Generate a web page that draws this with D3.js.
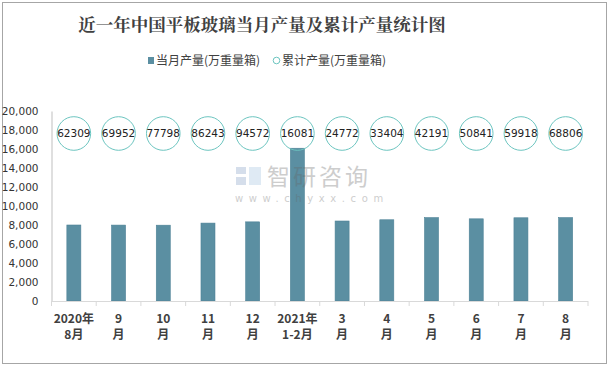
<!DOCTYPE html>
<html><head><meta charset="utf-8">
<script src="https://cdn.jsdelivr.net/npm/d3@7"></script>
<style>body{margin:0;background:#fff}svg{display:block}</style>
</head><body>
<svg id="c" width="610" height="369"></svg>
<script>
const categoriesLine1 = ["2020年","9","10","11","12","2021年","3","4","5","6","7","8"];
const categoriesLine2 = ["8月","月","月","月","月","1-2月","月","月","月","月","月","月"];
const monthly = [8000, 7990, 7980, 8200, 8330, 16081, 8420, 8550, 8780, 8650, 8760, 8780];
const cumulative = [62309, 69952, 77798, 86243, 94572, 16081, 24772, 33404, 42191, 50841, 59918, 68806];
const yTicks = [0,2000,4000,6000,8000,10000,12000,14000,16000,18000,20000];
const seriesNames = ["当月产量(万重量箱)","累计产量(万重量箱)"];

const svg = d3.select("#c");
svg.append("rect").attr("x",2.5).attr("y",2.5).attr("width",604).attr("height",361)
  .attr("fill","#fff").attr("stroke","#a6a6a6").attr("stroke-width",1);

const L=51.5, R=588, T=111, B=301;
const cats = d3.range(categoriesLine1.length);
const x = d3.scaleBand().domain(cats).range([L,R]);
const y = d3.scaleLinear().domain([0,20000]).range([B,T]);

// title
svg.append("text").attr("x",262).attr("y",31).attr("text-anchor","middle")
  .attr("font-family","'Noto Serif CJK SC','Noto Sans CJK SC',serif").attr("font-weight","bold")
  .attr("font-size",17.5).attr("fill","#404040").text("近一年中国平板玻璃当月产量及累计产量统计图");

// legend
svg.append("rect").attr("x",148).attr("y",57).attr("width",6).attr("height",7).attr("fill","#5B8FA2");
svg.append("text").attr("x",156).attr("y",65).attr("font-family","'Noto Sans CJK SC',sans-serif")
  .attr("font-size",12).attr("fill","#404040").text(seriesNames[0]);
svg.append("circle").attr("cx",276.5).attr("cy",60.5).attr("r",3.3).attr("fill","none").attr("stroke","#6cc5c0").attr("stroke-width",1);
svg.append("text").attr("x",282).attr("y",65).attr("font-family","'Noto Sans CJK SC',sans-serif")
  .attr("font-size",12).attr("fill","#404040").text(seriesNames[1]);

// y axis
const yAxis = svg.append("g").attr("transform",`translate(${L},0)`)
  .call(d3.axisLeft(y).tickValues(yTicks).tickSize(0).tickPadding(13).tickFormat(d3.format(",")));
yAxis.select(".domain").attr("stroke","#bfbfbf");
yAxis.selectAll("text").attr("font-family","'DejaVu Sans',sans-serif").attr("font-size",10.5).attr("fill","#333");

// bars
svg.append("g").selectAll("rect").data(monthly).join("rect")
  .attr("x",(d,i)=>x(i)+x.bandwidth()/2-7).attr("width",14)
  .attr("y",d=>y(d)).attr("height",d=>B-y(d))
  .attr("fill","#5B8FA2").attr("stroke","#4d8196").attr("stroke-width",0.6);

// watermark (over bars, semi-transparent)
const wm = svg.append("g").attr("opacity",0.32);
wm.append("rect").attr("x",236).attr("y",167).attr("width",10).attr("height",7).attr("fill","#7f9cc4");
wm.append("rect").attr("x",236).attr("y",177).attr("width",10).attr("height",8).attr("fill","#7f9cc4");
wm.append("rect").attr("x",249).attr("y",167).attr("width",12).attr("height",18).attr("fill","#9fc1e0");
wm.append("text").attr("x",267).attr("y",185).attr("font-family","'Noto Sans CJK SC',sans-serif")
  .attr("font-size",23).attr("letter-spacing",3).attr("fill","#666").text("智研咨询");
wm.append("text").attr("x",235).attr("y",202).attr("font-family","'DejaVu Sans',sans-serif")
  .attr("font-size",10).attr("letter-spacing",5.6).attr("fill","#666").text("www.chyxx.com");

// x axis
const xa = svg.append("g");
xa.append("line").attr("x1",L).attr("x2",R).attr("y1",B+0.5).attr("y2",B+0.5).attr("stroke","#d9d9d9");
xa.selectAll("line.t").data(d3.range(cats.length+1)).join("line").attr("class","t")
  .attr("x1",i=>L+i*x.step()).attr("x2",i=>L+i*x.step()).attr("y1",B).attr("y2",B+5).attr("stroke","#d9d9d9");
xa.selectAll("text.l1").data(categoriesLine1).join("text").attr("class","l1")
  .attr("x",(d,i)=>x(i)+x.bandwidth()/2).attr("y",323).attr("text-anchor","middle")
  .attr("font-family","'Noto Sans CJK SC',sans-serif").attr("font-weight","bold").attr("font-size",12).attr("fill","#404040").text(d=>d);
xa.selectAll("text.l2").data(categoriesLine2).join("text").attr("class","l2")
  .attr("x",(d,i)=>x(i)+x.bandwidth()/2).attr("y",339).attr("text-anchor","middle")
  .attr("font-family","'Noto Sans CJK SC',sans-serif").attr("font-weight","bold").attr("font-size",12).attr("fill","#404040").text(d=>d);

// cumulative circles
const cg = svg.append("g").selectAll("g").data(cumulative).join("g")
  .attr("transform",(d,i)=>`translate(${x(i)+x.bandwidth()/2},133.5)`);
cg.append("circle").attr("r",16.8).attr("fill","#fff").attr("fill-opacity",0).attr("stroke","#6cc5c0").attr("stroke-width",1);
cg.append("text").attr("text-anchor","middle").attr("dy","0.36em")
  .attr("font-family","'DejaVu Sans',sans-serif").attr("font-size",10.5).attr("fill","#222").text(d=>d);
</script>
</body></html>
